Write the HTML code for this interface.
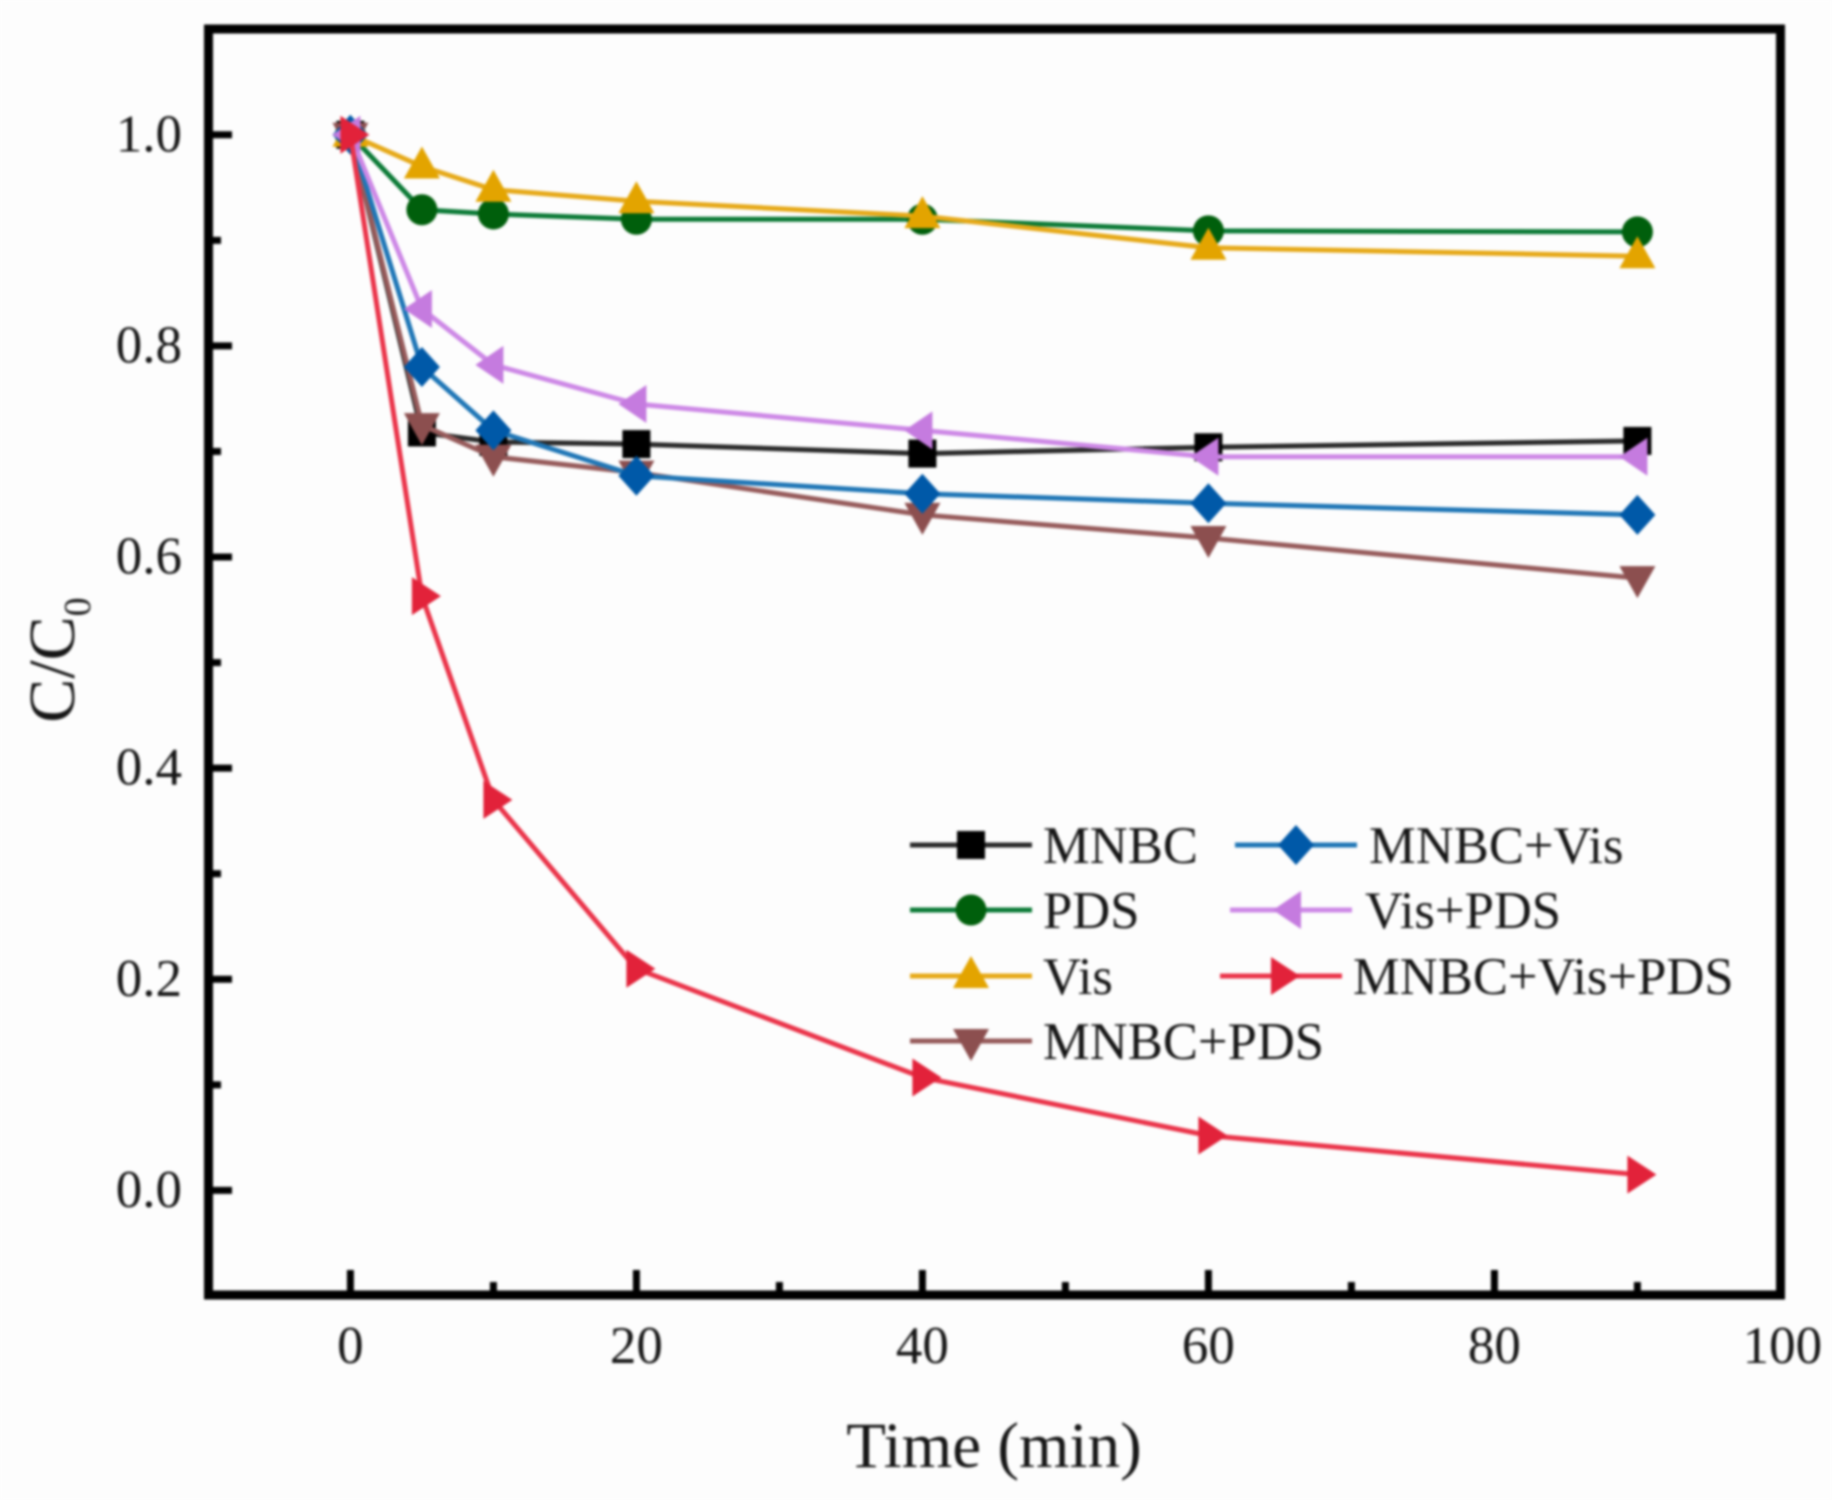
<!DOCTYPE html>
<html lang="en">
<head>
<meta charset="utf-8">
<title>C/C0 versus time</title>
<style>
html,body{margin:0;padding:0;background:#fdfdfd;width:1832px;height:1500px;overflow:hidden}
svg{display:block;filter:blur(1.2px)}
text{font-family:"Liberation Serif",serif;fill:#161616}
</style>
</head>
<body>
<svg id="chart" xmlns="http://www.w3.org/2000/svg" width="1832" height="1500" viewBox="0 0 1832 1500">
<rect x="0" y="0" width="1832" height="1500" fill="#fdfdfd"/>
<g id="ticks"></g>
<g id="labels"></g>
<rect x="208.5" y="29" width="1572" height="1266" fill="none" stroke="#000" stroke-width="9"/>
<g id="series"></g>
<g id="legend"></g>
<text x="994" y="1467" font-size="65" text-anchor="middle">Time (min)</text>
<text transform="translate(74 660) rotate(-90)" font-size="66" text-anchor="middle">C/C<tspan font-size="38" dy="16">0</tspan></text>
</svg>
<script>
const times = [0, 5, 10, 20, 40, 60, 90];
const mnbc = [1.0, 0.718, 0.709, 0.707, 0.698, 0.704, 0.71];
const pds = [1.0, 0.929, 0.925, 0.92, 0.92, 0.909, 0.908];
const vis = [1.0, 0.97, 0.948, 0.937, 0.923, 0.893, 0.885];
const mnbcPds = [1.0, 0.725, 0.695, 0.68, 0.64, 0.618, 0.58];
const mnbcVis = [1.0, 0.78, 0.72, 0.677, 0.66, 0.651, 0.64];
const visPds = [1.0, 0.835, 0.782, 0.745, 0.72, 0.695, 0.695];
const mnbcVisPds = [1.0, 0.563, 0.37, 0.21, 0.107, 0.052, 0.015];
const xMajorTicks = [0, 20, 40, 60, 80, 100];
const xMinorTicks = [10, 30, 50, 70, 90];
const yMajorTicks = [0.0, 0.2, 0.4, 0.6, 0.8, 1.0];
const yMinorTicks = [0.1, 0.3, 0.5, 0.7, 0.9];

const NS = 'http://www.w3.org/2000/svg';
function xScale(v) { return 350.4 + v * 14.3; }
function yScale(v) { return 1190.4 - v * 1055.6; }
function make(tag, parent, attrs) {
  const el = document.createElementNS(NS, tag);
  for (const k in attrs) el.setAttribute(k, attrs[k]);
  parent.appendChild(el);
  return el;
}
function marker(parent, shape, cx, cy, fill) {
  let el;
  if (shape === 'circle') {
    el = make('circle', parent, { cx: cx, cy: cy, r: 15.5, fill: fill });
  } else if (shape === 'square') {
    el = make('rect', parent, { x: cx - 14, y: cy - 14, width: 28, height: 28, fill: fill });
  } else {
    const p = {
      up: [[0, -20], [18, 12], [-18, 12]],
      down: [[0, 20], [18, -12], [-18, -12]],
      left: [[-18, 0], [10, -19], [10, 19]],
      right: [[19, 0], [-10, -19], [-10, 19]],
      diamond: [[0, -20], [18, 0], [0, 20], [-18, 0]]
    }[shape];
    el = make('polygon', parent, {
      points: p.map(function (q) { return (cx + q[0]) + ',' + (cy + q[1]); }).join(' '),
      fill: fill
    });
  }
  return el;
}

const tickGroup = document.getElementById('ticks');
const labelGroup = document.getElementById('labels');
const BOTTOM_EDGE = 1293;
const LEFT_EDGE = 210;

xMajorTicks.forEach(function (v) {
  const t = make('line', tickGroup, { x1: xScale(v), x2: xScale(v), y1: BOTTOM_EDGE, y2: BOTTOM_EDGE - 23, stroke: '#000', 'stroke-width': 7 });
  
  
  const l = make('text', labelGroup, { x: xScale(v) + (v === 100 ? 2 : 0), y: 1363, 'font-size': 53, 'text-anchor': 'middle' });
  l.textContent = String(v);
  
  
});
xMinorTicks.forEach(function (v) {
  const t = make('line', tickGroup, { x1: xScale(v), x2: xScale(v), y1: BOTTOM_EDGE, y2: BOTTOM_EDGE - 11, stroke: '#000', 'stroke-width': 7 });
  
  
});
yMajorTicks.forEach(function (v) {
  const t = make('line', tickGroup, { x1: LEFT_EDGE, x2: LEFT_EDGE + 22, y1: yScale(v), y2: yScale(v), stroke: '#000', 'stroke-width': 7 });
  
  
  const l = make('text', labelGroup, { x: 182, y: yScale(v) + 16.5, 'font-size': 53, 'text-anchor': 'end' });
  l.textContent = v.toFixed(1);
  
  
});
yMinorTicks.forEach(function (v) {
  const t = make('line', tickGroup, { x1: LEFT_EDGE, x2: LEFT_EDGE + 11, y1: yScale(v), y2: yScale(v), stroke: '#000', 'stroke-width': 7 });
  
  
});

const seriesGroup = document.getElementById('series');
function drawSeries(name, values, shape, lineColor, markerColor) {
  const g = make('g', seriesGroup, {});
  
  
  const line = make('polyline', g, {
    points: values.map(function (v, i) { return xScale(times[i]) + ',' + yScale(v); }).join(' '),
    fill: 'none', stroke: lineColor, 'stroke-width': 5, 'stroke-linejoin': 'round'
  });
  
  
  values.forEach(function (v, i) {
    const m = marker(g, shape, xScale(times[i]), yScale(v), markerColor);
    
    
  });
}
drawSeries('mnbc', mnbc, 'square', '#2a2a2a', '#000000');
drawSeries('pds', pds, 'circle', '#0b7a36', '#005f0c');
drawSeries('vis', vis, 'up', '#e6a918', '#e3a400');
drawSeries('mnbc-pds', mnbcPds, 'down', '#965a5a', '#8c4f4f');
drawSeries('mnbc-vis', mnbcVis, 'diamond', '#1f76b6', '#0059a8');
drawSeries('vis-pds', visPds, 'left', '#cd88e6', '#c57bdf');
drawSeries('mnbc-vis-pds', mnbcVisPds, 'right', '#ea3349', '#e2223a');

const legendGroup = document.getElementById('legend');
function legendEntry(name, label, shape, lineColor, markerColor, lineStart, textX, rowY) {
  const g = make('g', legendGroup, {});
  
  
  make('line', g, { x1: lineStart, x2: lineStart + 122, y1: rowY, y2: rowY, stroke: lineColor, 'stroke-width': 5 });
  marker(g, shape, lineStart + 61, rowY, markerColor);
  const t = make('text', g, { x: textX, y: rowY + 18, 'font-size': 52.6 });
  t.textContent = label;
}
legendEntry('mnbc', 'MNBC', 'square', '#2a2a2a', '#000000', 910, 1043, 845);
legendEntry('pds', 'PDS', 'circle', '#0b7a36', '#005f0c', 910, 1043, 910);
legendEntry('vis', 'Vis', 'up', '#e6a918', '#e3a400', 910, 1043, 976);
legendEntry('mnbc-pds', 'MNBC+PDS', 'down', '#965a5a', '#8c4f4f', 910, 1043, 1041);
legendEntry('mnbc-vis', 'MNBC+Vis', 'diamond', '#1f76b6', '#0059a8', 1235, 1369, 845);
legendEntry('vis-pds', 'Vis+PDS', 'left', '#cd88e6', '#c57bdf', 1230, 1365, 910);
legendEntry('mnbc-vis-pds', 'MNBC+Vis+PDS', 'right', '#ea3349', '#e2223a', 1220, 1353, 976);
</script>
</body>
</html>
